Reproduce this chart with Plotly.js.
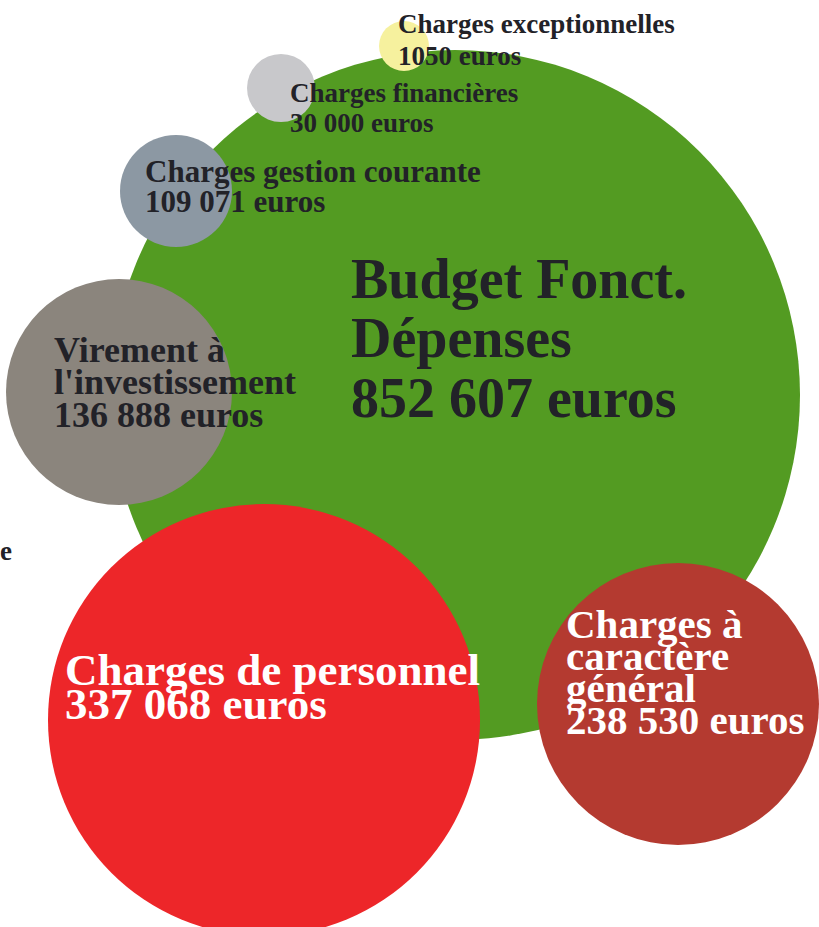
<!DOCTYPE html>
<html>
<head>
<meta charset="utf-8">
<script src="https://cdn.plot.ly/plotly-3.0.1.min.js"></script>
<style>html,body{margin:0;padding:0;background:#fff;}#chart{width:819px;height:927px;}</style>
</head>
<body>
<div id="chart"></div>
<script>
// ---- data ----
const categories = [
  "Budget Fonct. Dépenses",
  "Charges de personnel",
  "Charges à caractère général",
  "Virement à l'investissement",
  "Charges gestion courante",
  "Charges financières",
  "Charges exceptionnelles"
];
const nameLines = [
  ["Budget Fonct.", "Dépenses"],
  ["Charges de personnel"],
  ["Charges à", "caractère", "général"],
  ["Virement à", "l'investissement"],
  ["Charges gestion courante"],
  ["Charges financières"],
  ["Charges exceptionnelles"]
];
const values = [852607, 337068, 238530, 136888, 109071, 30000, 1050];

// ---- layout of the bubbles (in pixels) ----
const bubbleX = [455, 264, 678, 119, 176, 281, 404];
const bubbleY = [395, 720, 704, 392, 191, 88, 46];
const bubbleDiameter = [690, 432, 282, 226, 112, 68, 50];
const bubbleColor = ["#539B22", "#ED2629", "#B43A30", "#8B857D", "#8C98A3", "#C8C8CB", "#F6F19E"];

// ---- label styling ----
const labelX = [351, 65, 566, 54, 145, 290, 398];
const labelBaseline = [298, 685, 638, 362, 182, 102, 33];
const labelFont = [56, 45, 41, 36, 31, 27, 27];
const labelStep = [59.5, 34, 32, 32.5, 30, 30, 32];
const labelColor = ["#222228", "#ffffff", "#ffffff", "#222228", "#222228", "#222228", "#222228"];

function fmt(v) {
  if (v < 10000) return String(v);
  return String(v).replace(/\B(?=(\d{3})+(?!\d))/g, " ");
}

const trace = {
  type: "scatter",
  mode: "markers",
  x: bubbleX,
  y: bubbleY,
  text: categories,
  marker: {
    size: bubbleDiameter,
    sizemode: "diameter",
    color: bubbleColor,
    opacity: 1,
    line: {width: 0}
  },
  hoverinfo: "skip"
};

const annotations = [];
for (let i = 0; i < categories.length; i++) {
  const lines = nameLines[i].concat([fmt(values[i]) + " euros"]);
  lines.forEach((t, k) => {
    const base = labelBaseline[i] + k * labelStep[i];
    annotations.push({
      xref: "x", yref: "y",
      x: labelX[i], y: base - 0.34 * labelFont[i],
      xanchor: "left", yanchor: "middle",
      text: "<b>" + t + "</b>",
      showarrow: false,
      borderpad: 0, borderwidth: 0,
      font: {family: "Liberation Serif, Times New Roman, serif", size: labelFont[i], color: labelColor[i]}
    });
  });
}
// stray cropped letter at the left edge
annotations.push({
  xref: "x", yref: "y", x: 0, y: 560 - 0.34 * 27,
  xanchor: "left", yanchor: "middle", text: "<b>e</b>", showarrow: false,
  borderpad: 0, borderwidth: 0,
  font: {family: "Liberation Serif, Times New Roman, serif", size: 27, color: "#222228"}
});

const layout = {
  width: 819, height: 927,
  margin: {l: 0, r: 0, t: 0, b: 0},
  paper_bgcolor: "#ffffff", plot_bgcolor: "#ffffff",
  showlegend: false,
  hovermode: false,
  xaxis: {range: [0, 819], visible: false, fixedrange: true},
  yaxis: {range: [927, 0], visible: false, fixedrange: true},
  annotations: annotations
};

Plotly.newPlot("chart", [trace], layout, {staticPlot: true, displayModeBar: false});
</script>
</body>
</html>
